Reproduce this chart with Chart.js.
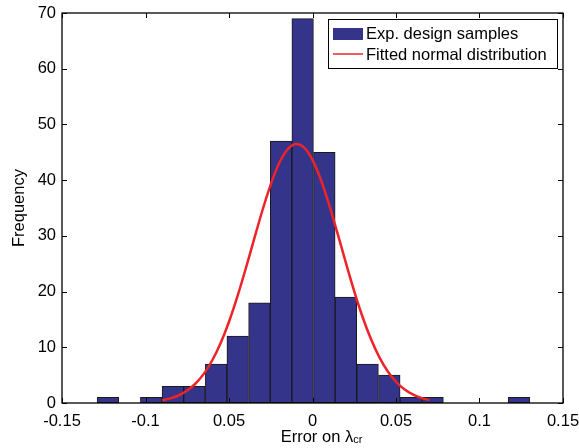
<!DOCTYPE html>
<html>
<head>
<meta charset="utf-8">
<script src="https://cdn.jsdelivr.net/npm/chart.js@4"></script>
<style>
  html, body { margin: 0; padding: 0; background: #fff; }
  #wrap { width: 579px; height: 448px; position: relative; }
</style>
</head>
<body>
<div id="wrap"><canvas id="histo" width="579" height="448"></canvas></div>
<script>
// histogram bins (centres) and counts
const binCenters = [-0.1225, -0.1096, -0.0966, -0.0836, -0.0707, -0.0577, -0.0448, -0.0318, -0.0188, -0.0059,
                    0.0071, 0.0200, 0.0330, 0.0460, 0.0589, 0.0719, 0.0848, 0.0978, 0.1108, 0.1237];
const binCounts = [1, 0, 1, 3, 3, 7, 12, 18, 47, 69, 45, 19, 7, 5, 1, 1, 0, 0, 0, 1];

// fitted normal curve
const curveX = [-0.09, -0.085, -0.08, -0.075, -0.07, -0.065, -0.06, -0.055, -0.05, -0.045, -0.04,
                -0.035, -0.03, -0.025, -0.02, -0.015, -0.01, -0.005, 0, 0.005, 0.01, 0.015, 0.02,
                0.025, 0.03, 0.035, 0.04, 0.045, 0.05, 0.055, 0.06, 0.065, 0.07];
const curveY = [0.48, 0.83, 1.39, 2.24, 3.5, 5.27, 7.67, 10.77, 14.59, 19.08, 24.1,
                29.37, 34.55, 39.24, 43.02, 45.51, 46.5, 45.84, 43.63, 40.08, 35.54, 30.43, 25.14,
                20.05, 15.44, 11.47, 8.23, 5.7, 3.81, 2.46, 1.53, 0.92, 0.53];

const xTickLabels = ['-0.15', '-0.1', '0.05', '0', '0.05', '0.1', '0.15'];
const yTickLabels = ['0', '10', '20', '30', '40', '50', '60', '70'];

const legendLabels = ['Exp. design samples', 'Fitted normal distribution'];

const FONT = '"Liberation Sans", Arial, Helvetica, sans-serif';
const BAR_COLOR = '#34348a';
const LINE_COLOR = '#ee2328';

// box round the axes + inward ticks (matlab style)
const axesBox = {
  id: 'axesBox',
  afterDatasetsDraw(chart) {
    const { ctx, chartArea: a, scales } = chart;
    ctx.save();
    ctx.strokeStyle = '#000';
    ctx.lineWidth = 1.3;
    ctx.strokeRect(a.left, a.top, a.right - a.left, a.bottom - a.top);
    ctx.lineWidth = 1;
    ctx.beginPath();
    scales.x.ticks.forEach(t => {
      const px = Math.round(scales.x.getPixelForValue(t.value)) + 0.5;
      ctx.moveTo(px, a.bottom); ctx.lineTo(px, a.bottom - 5);
      ctx.moveTo(px, a.top); ctx.lineTo(px, a.top + 5);
    });
    scales.y.ticks.forEach(t => {
      const py = Math.round(scales.y.getPixelForValue(t.value)) + 0.5;
      ctx.moveTo(a.left, py); ctx.lineTo(a.left + 5, py);
      ctx.moveTo(a.right, py); ctx.lineTo(a.right - 5, py);
    });
    ctx.stroke();
    ctx.restore();
  }
};

// legend box in the top right corner + x title with subscript
const extras = {
  id: 'extras',
  afterDraw(chart) {
    const { ctx, chartArea: a } = chart;
    ctx.save();
    const bx = a.right - 235, by = a.top + 6, bw = 229, bh = 49;
    ctx.fillStyle = '#fff';
    ctx.fillRect(bx, by, bw, bh);
    ctx.strokeStyle = '#000';
    ctx.lineWidth = 1;
    ctx.strokeRect(bx + 0.5, by + 0.5, bw, bh);

    ctx.fillStyle = BAR_COLOR;
    ctx.fillRect(bx + 5, by + 9, 30, 12);
    ctx.strokeStyle = LINE_COLOR;
    ctx.lineWidth = 1.5;
    ctx.beginPath();
    ctx.moveTo(bx + 5, by + 35); ctx.lineTo(bx + 35, by + 35);
    ctx.stroke();

    ctx.fillStyle = '#000';
    ctx.font = '16.5px ' + FONT;
    ctx.textBaseline = 'middle';
    ctx.fillText(legendLabels[0], bx + 38, by + 15);
    ctx.fillText(legendLabels[1], bx + 38, by + 36);

    // x axis title: Error on λ_cr
    const main = 'Error on λ', sub = 'cr';
    ctx.font = '16.5px ' + FONT;
    const w1 = ctx.measureText(main).width;
    ctx.font = '11px ' + FONT;
    const w2 = ctx.measureText(sub).width;
    const cx = (a.left + a.right) / 2 + 9;
    const x0 = cx - (w1 + w2) / 2;
    const base = a.bottom + 39;
    ctx.textBaseline = 'alphabetic';
    ctx.font = '16.5px ' + FONT;
    ctx.fillText(main, x0, base);
    ctx.font = '11px ' + FONT;
    ctx.fillText(sub, x0 + w1, base + 1);
    ctx.restore();
  }
};

const barData = binCenters.map((x, i) => ({ x: x, y: binCounts[i] }));
const lineData = curveX.map((x, i) => ({ x: x, y: curveY[i] }));

new Chart(document.getElementById('histo'), {
  type: 'bar',
  data: {
    datasets: [
      {
        type: 'bar',
        label: legendLabels[0],
        data: barData,
        backgroundColor: BAR_COLOR,
        borderColor: '#1a1a1a',
        borderWidth: 1,
        borderSkipped: false,
        barPercentage: 1,
        categoryPercentage: 1,
        order: 2
      },
      {
        type: 'line',
        label: legendLabels[1],
        data: lineData,
        borderColor: LINE_COLOR,
        borderWidth: 2.5,
        pointRadius: 0,
        tension: 0.3,
        fill: false,
        order: 1
      }
    ]
  },
  options: {
    responsive: false,
    animation: false,
    devicePixelRatio: 1,
    layout: { padding: { top: 13, right: 16, left: 0, bottom: 0 } },
    plugins: {
      legend: { display: false },
      tooltip: { enabled: false }
    },
    scales: {
      x: {
        type: 'linear',
        min: -0.15,
        max: 0.15,
        offset: false,
        grid: { display: false, drawTicks: false },
        border: { display: false },
        ticks: {
          stepSize: 0.05,
          padding: 9,
          color: '#000',
          font: { family: FONT, size: 16.5 },
          maxRotation: 0,
          autoSkip: false,
          callback: (v, i) => xTickLabels[i]
        },
        afterFit: s => { s.height = 45; s.paddingLeft = 0; s.paddingRight = 0; }
      },
      y: {
        min: 0,
        max: 70,
        grid: { display: false, drawTicks: false },
        border: { display: false },
        ticks: {
          stepSize: 10,
          padding: 6,
          color: '#000',
          font: { family: FONT, size: 16.5 },
          callback: (v, i) => yTickLabels[i]
        },
        title: {
          display: true,
          text: 'Frequency',
          color: '#000',
          font: { family: FONT, size: 16.5 },
          padding: { top: 10, bottom: 0 }
        },
        afterFit: s => { s.width = 62; s.paddingTop = 0; s.paddingBottom = 0; }
      }
    }
  },
  plugins: [axesBox, extras]
});
</script>
</body>
</html>
